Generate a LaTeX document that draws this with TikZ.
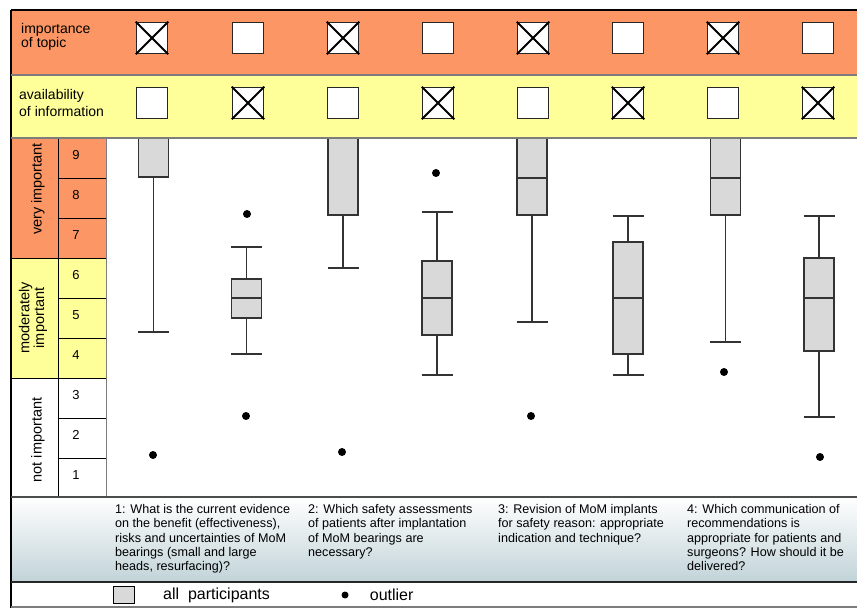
\documentclass[tikz,border=0pt]{standalone}
\usepackage{fontspec}
\setmainfont{Liberation Sans}
\usepackage{xcolor}
\usetikzlibrary{positioning}

\definecolor{hiorange}{RGB}{252,150,100}
\definecolor{midyellow}{RGB}{255,255,153}
\definecolor{boxgrey}{RGB}{217,217,217}
\definecolor{footblue}{RGB}{193,211,216}
\definecolor{rulegrey}{RGB}{125,125,125}

\tikzset{
  checkbox/.style={draw=black!85,line width=1.5pt,fill=white,minimum size=31pt,inner sep=0pt},
  whisker/.style={draw=black!80,line width=1.1pt},
  boxbody/.style={draw=black!80,fill=boxgrey,line width=1.3pt},
  outlier/.style={circle,fill=black,inner sep=0pt,minimum size=8pt},
  rowlabel/.style={inner sep=0pt,align=left,anchor=north west},
  scalelabel/.style={inner sep=0pt,rotate=90,align=center,font=\fontsize{14.5}{13}\selectfont},
  question/.style={inner sep=0pt,align=left,anchor=north west,font=\fontsize{12.6}{14.4}\selectfont},
  legendtext/.style={inner sep=0pt,font=\fontsize{16}{16}\selectfont}
}

% x, upper whisker, q3, median, q1, lower whisker
\newcommand{\whiskerbox}[6]{%
  \draw[whisker] (#1,#2) -- (#1,#3) (#1,#5) -- (#1,#6);
  \draw[whisker] (#1-15.5,#2) -- (#1+15.5,#2) (#1-15.5,#6) -- (#1+15.5,#6);
  \filldraw[boxbody] (#1-15,#3) rectangle (#1+15,#5);
  \draw[boxbody] (#1-15,#4) -- (#1+15,#4);}

\begin{document}
\begin{tikzpicture}[x=1pt,y=-1pt]
\useasboundingbox (0,0) rectangle (857,609);

% coloured bands
\fill[hiorange] (11,10) rectangle (857,75);
\fill[midyellow] (11,75) rectangle (857,138);
\fill[hiorange] (11,138) rectangle (106,258);
\fill[midyellow] (11,258) rectangle (106,378);
\shade[top color=white,bottom color=footblue] (11,497) rectangle (857,582);

\node[rowlabel,font=\fontsize{14}{13}\selectfont] (topic) at (21,23) {importance\\of topic};
\node[rowlabel,font=\fontsize{14}{17}\selectfont] (avail) at (19,89) {availability\\of information};

\foreach \x [count=\i] in {152,248,343,438,533,628,723,818} {
  \node[checkbox] (imp\i) at (\x,38) {};
  \node[checkbox] (inf\i) at (\x,103) {};
}
\foreach \i in {1,3,5,7}
  \draw[line width=1.8pt] (imp\i.north west) -- (imp\i.south east) (imp\i.north east) -- (imp\i.south west);
\foreach \i in {2,4,6,8}
  \draw[line width=1.8pt] (inf\i.north west) -- (inf\i.south east) (inf\i.north east) -- (inf\i.south west);

% scale
\draw[black] (58,138) -- (58,497);
\draw[rulegrey] (106,138) -- (106,497);
\foreach \yy in {178,218,...,458}
  \draw (58,\yy) -- (106,\yy);
\draw (11,258) -- (58,258) (11,378) -- (58,378);
\foreach \v in {1,...,9}
  \node[font=\fontsize{13}{13}\selectfont] (num\v) at (76,{138+(9-\v)*40+17}) {\v};
\node[scalelabel] (very) at (38,189) {very important};
\node[scalelabel] (moder) at (33,318) {moderately\\important};
\node[scalelabel] (notimp) at (38,440) {not important};

% box plots
\whiskerbox{153.5}{138}{138}{138}{177}{332}
\whiskerbox{246.5}{247}{279}{298}{318}{354}
\whiskerbox{343}{138}{138}{138}{215}{268}
\whiskerbox{437}{212}{261}{298}{335}{375}
\whiskerbox{532}{138}{138}{178}{215}{322}
\whiskerbox{628}{216}{242}{298}{354}{375}
\whiskerbox{725.5}{138}{138}{178}{215}{342}
\whiskerbox{819}{216}{258}{298}{351}{417}

\node[outlier] (o1) at (153,455) {};
\node[outlier] (o2a) at (247,214) {};
\node[outlier] (o2b) at (246,416) {};
\node[outlier] (o3) at (342,452) {};
\node[outlier] (o4) at (436,173) {};
\node[outlier] (o5) at (531,416) {};
\node[outlier] (o7) at (724,372) {};
\node[outlier] (o8) at (820,457) {};

% frame
\draw[black,line width=2pt] (11,10) -- (857,10);
\draw[black,line width=2pt] (11,10) -- (11,608);
\draw[rulegrey,line width=1.2pt] (11,75) -- (857,75);
\draw[rulegrey,line width=1.2pt] (11,138) -- (857,138);
\draw[black!70,line width=1.5pt] (11,497) -- (857,497);
\draw[black!85,line width=2pt] (11,582) -- (857,582);
\draw[rulegrey,line width=1.2pt] (11,607) -- (857,607);

% questions
\node[question] (q1) at (115,504) {1: What is the current evidence\\on the benefit (effectiveness),\\risks  and uncertainties of MoM\\bearings (small and large\\heads, resurfacing)?};
\node[question] (q2) at (308,504) {2: Which safety assessments\\of patients after implantation\\of MoM  bearings are\\necessary?};
\node[question] (q3) at (498,504) {3: Revision of MoM  implants\\for safety reason: appropriate\\indication and technique?};
\node[question] (q4) at (687,504) {4: Which communication of\\recommendations is\\appropriate for patients and\\surgeons? How should it be\\delivered?};

% legend
\node[draw=black,line width=1.8pt,fill=boxgrey,minimum width=21pt,minimum height=17pt,inner sep=0pt] (legbox) at (124,595) {};
\node[legendtext,anchor=west] (legall) at (163,595) {all\ \ participants};
\node[outlier,minimum size=7pt] (legdot) at (345,595) {};
\node[legendtext,right=21pt of legdot] (legout) {outlier};
\end{tikzpicture}
\end{document}
